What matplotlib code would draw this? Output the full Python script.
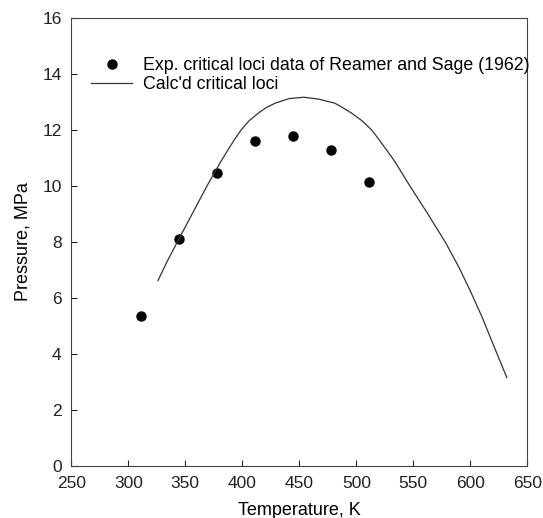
import matplotlib
matplotlib.use('Agg')
import matplotlib.pyplot as plt

plt.rcParams['font.family'] = ['Liberation Sans', 'DejaVu Sans']

# experimental critical loci (Reamer and Sage, 1962)
temp_exp = [310.9, 344.3, 377.6, 410.9, 444.3, 477.6, 510.9]
pres_exp = [5.35, 8.12, 10.45, 11.61, 11.79, 11.27, 10.14]

# calculated critical loci
temp_calc = [326, 334, 343, 356, 369, 381, 387, 393, 399, 406, 414, 421, 429, 441, 454,
             467, 481, 488, 496, 505, 513.5, 520, 527, 534, 547, 562, 578, 590, 600,
             610, 620, 632]
pres_calc = [6.62, 7.3, 8.0, 9.0, 10.0, 10.86, 11.26, 11.65, 12.0, 12.33, 12.6, 12.8, 12.96,
             13.12, 13.17, 13.1, 12.96, 12.8, 12.6, 12.33, 12.0, 11.65, 11.26, 10.86, 10.0,
             9.05, 8.0, 7.1, 6.25, 5.35, 4.35, 3.16]

xticks = [250, 300, 350, 400, 450, 500, 550, 600, 650]
yticks = [0, 2, 4, 6, 8, 10, 12, 14, 16]

fig = plt.figure(figsize=(5.43, 5.18), dpi=100)
ax = fig.add_axes([0.1313, 0.1004, 0.8398, 0.8649])

ax.plot(temp_exp, pres_exp, 'o', color='black', markersize=6.5,
        label='Exp. critical loci data of Reamer and Sage (1962)')
ax.plot(temp_calc, pres_calc, '-', color='#333333', linewidth=0.9,
        label="Calc'd critical loci")

ax.set_xlim(250, 650)
ax.set_ylim(0, 16)
ax.set_xticks(xticks)
ax.set_yticks(yticks)
ax.tick_params(direction='in', length=4, width=0.8, labelsize=12.5,
               top=False, right=False, colors='#222222')
ax.tick_params(axis='x', pad=7)
ax.tick_params(axis='y', pad=7)
for s in ax.spines.values():
    s.set_linewidth(0.8)
    s.set_color('#444444')

ax.set_xlabel('Temperature, K', fontsize=13, labelpad=8)
ax.set_ylabel('Pressure, MPa', fontsize=13, labelpad=8)

ax.legend(loc='upper right', bbox_to_anchor=(1.005, 0.912), frameon=False,
          fontsize=12.8, handlelength=2.3, handletextpad=0.6,
          borderaxespad=0, borderpad=0, labelspacing=0.1)

fig.savefig('out.png', dpi=100)
